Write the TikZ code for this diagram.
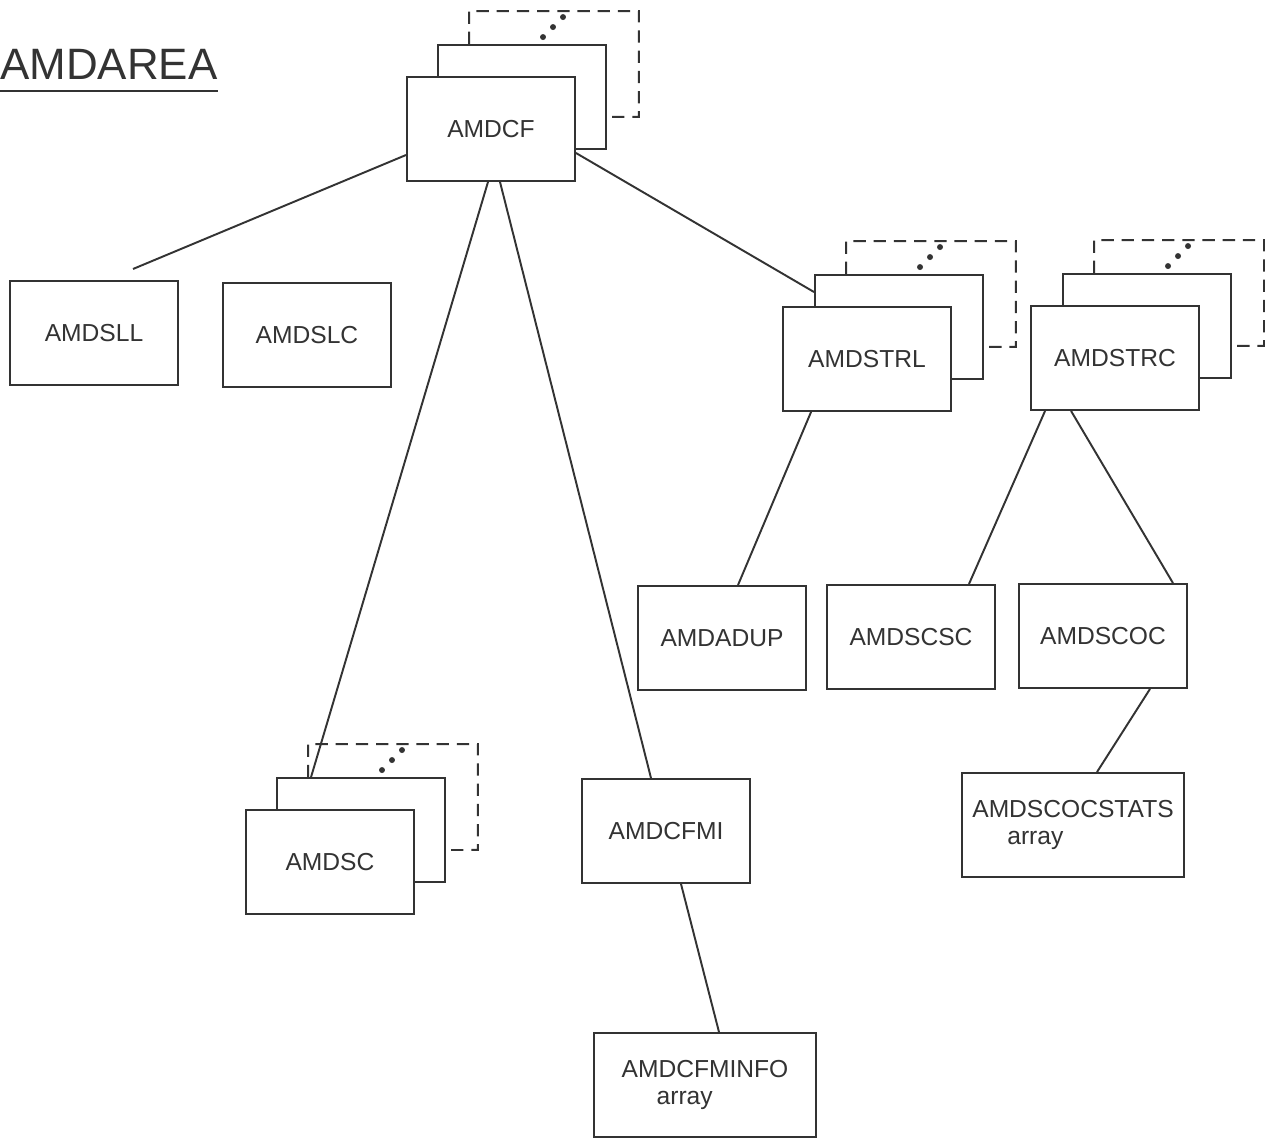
\documentclass[tikz,border=0pt]{standalone}
\usepackage{fontspec}
\setmainfont{Liberation Sans}
\usepackage{xcolor}
\definecolor{ink}{HTML}{333333}

\begin{document}
\begin{tikzpicture}[
    x=0.02cm, y=-0.02cm,
    block/.style={draw=ink, line width=1.1pt, rectangle, fill=white, minimum width=3.36cm, minimum height=2.08cm, align=center, text=ink, font=\fontsize{14}{15.5}\selectfont},
    wideblock/.style={block, minimum width=4.45cm, align=left},
    hidden/.style={draw=ink, line width=1.1pt, dash pattern=on 7pt off 4.5pt},
    link/.style={draw=ink, line width=1.1pt}
]
\fill[white] (0,0) rectangle (1267,1138);
\useasboundingbox (0,0) rectangle (1267,1138);

% title
\node[anchor=base west, inner sep=0pt, text=ink, font=\fontsize{25}{30}\selectfont] (title) at (0,80) {AMDAREA};
\draw[link, line width=1.3pt] ([yshift=-0.22cm]title.base west) -- ([yshift=-0.22cm]title.base east);

% stacked copies behind
\node[block] (cfback) at (522,97) {};
\node[block] (strlback) at (899,327) {};
\node[block] (strcback) at (1147,326) {};
\node[block] (scback) at (361,830) {};

\foreach \s in {cfback,strlback,strcback,scback} {
    \draw[hidden] ([xshift=0.64cm]\s.north west) -- ++(0,-33) -| ([shift={(32,-33)}]\s.south east) -- ([yshift=0.66cm]\s.south east);
    \foreach \d in {0,1,2}
        \fill[ink] ([shift={(21+10*\d,-7-10*\d)}]\s.north) circle (1.7pt);
}

% front boxes
\node[block] (cf) at (491,129) {AMDCF};
\node[block] (sll) at (94,333) {AMDSLL};
\node[block] (slc) at (307,335) {AMDSLC};
\node[block] (strl) at (867,359) {AMDSTRL};
\node[block] (strc) at (1115,358) {AMDSTRC};
\node[block] (adup) at (722,638) {AMDADUP};
\node[block] (scsc) at (911,637) {AMDSCSC};
\node[block] (scoc) at (1103,636) {AMDSCOC};
\node[block] (sc) at (330,862) {AMDSC};
\node[block] (cfmi) at (666,831) {AMDCFMI};
\node[wideblock] (cfminfo) at (705,1085) {AMDCFMINFO\\\hspace*{0.7cm}array};
\node[wideblock] (scocstats) at (1073,825) {AMDSCOCSTATS\\\hspace*{0.7cm}array};

\coordinate (sllend) at (133,269);

% connectors
\draw[link] ([yshift=-0.52cm]cf.west) -- (sllend);
\draw[link] ([xshift=-0.06cm]cf.south) -- ([xshift=0.7cm]scback.north west);
\draw[link] ([xshift=0.18cm]cf.south) -- ([xshift=-0.3cm]cfmi.north);
\draw[link] ([yshift=-0.48cm]cf.east) -- ([yshift=-0.36cm]strlback.north west);
\draw[link] ([xshift=0.58cm]strl.south west) -- ([xshift=0.32cm]adup.north);
\draw[link] ([xshift=0.3cm]strc.south west) -- ([xshift=-0.54cm]scsc.north east);
\draw[link] ([xshift=0.82cm]strc.south west) -- ([xshift=-0.3cm]scoc.north east);
\draw[link] ([xshift=0.94cm]scoc.south) -- ([xshift=0.48cm]scocstats.north);
\draw[link] ([xshift=0.3cm]cfmi.south) -- ([xshift=0.28cm]cfminfo.north);
\end{tikzpicture}
\end{document}
